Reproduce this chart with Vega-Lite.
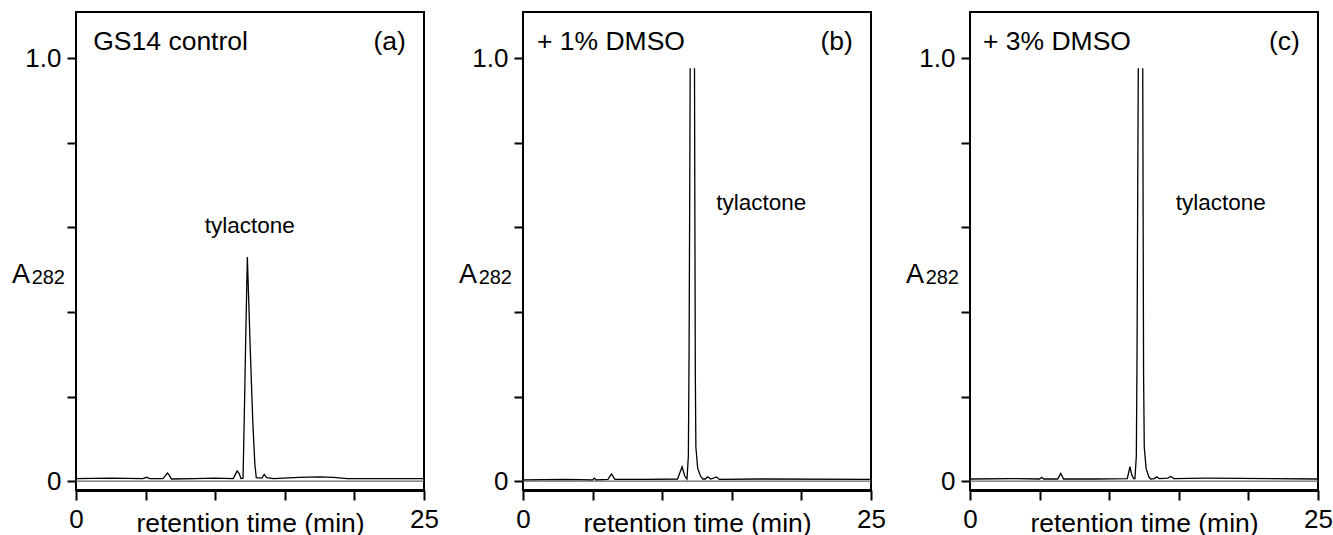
{
  "$schema": "https://vega.github.io/schema/vega-lite/v6.json",
  "padding": {"left": 10, "top": 11, "right": 5, "bottom": 0},
  "bounds": "flush",
  "spacing": 99,
  "background": "white",
  "datasets": {
    "a": [
      {"seg": 1, "t": 0, "a": 0.006}, {"seg": 1, "t": 2.5, "a": 0.007}, {"seg": 1, "t": 4.8, "a": 0.006},
      {"seg": 1, "t": 5.05, "a": 0.009}, {"seg": 1, "t": 5.3, "a": 0.006}, {"seg": 1, "t": 6.25, "a": 0.006},
      {"seg": 1, "t": 6.45, "a": 0.014}, {"seg": 1, "t": 6.57, "a": 0.019}, {"seg": 1, "t": 6.7, "a": 0.014},
      {"seg": 1, "t": 6.85, "a": 0.005}, {"seg": 1, "t": 8.5, "a": 0.006}, {"seg": 1, "t": 10, "a": 0.007},
      {"seg": 1, "t": 11.3, "a": 0.006}, {"seg": 1, "t": 11.45, "a": 0.016}, {"seg": 1, "t": 11.58, "a": 0.024},
      {"seg": 1, "t": 11.72, "a": 0.018}, {"seg": 1, "t": 11.85, "a": 0.006}, {"seg": 1, "t": 12.0, "a": 0.007},
      {"seg": 1, "t": 12.1, "a": 0.17}, {"seg": 1, "t": 12.2, "a": 0.35}, {"seg": 1, "t": 12.31, "a": 0.53},
      {"seg": 1, "t": 12.5, "a": 0.33}, {"seg": 1, "t": 12.7, "a": 0.14}, {"seg": 1, "t": 12.85, "a": 0.04},
      {"seg": 1, "t": 12.95, "a": 0.008}, {"seg": 1, "t": 13.35, "a": 0.007}, {"seg": 1, "t": 13.52, "a": 0.016},
      {"seg": 1, "t": 13.7, "a": 0.008}, {"seg": 1, "t": 14.2, "a": 0.006}, {"seg": 1, "t": 16, "a": 0.009},
      {"seg": 1, "t": 17.5, "a": 0.01}, {"seg": 1, "t": 18.5, "a": 0.009}, {"seg": 1, "t": 19.5, "a": 0.006},
      {"seg": 1, "t": 25, "a": 0.006}
    ],
    "b": [
      {"seg": 1, "t": 0, "a": 0.003}, {"seg": 1, "t": 3, "a": 0.004}, {"seg": 1, "t": 5.0, "a": 0.003},
      {"seg": 1, "t": 5.12, "a": 0.007}, {"seg": 1, "t": 5.25, "a": 0.003}, {"seg": 1, "t": 6.1, "a": 0.004},
      {"seg": 1, "t": 6.36, "a": 0.017}, {"seg": 1, "t": 6.6, "a": 0.004}, {"seg": 1, "t": 9, "a": 0.004},
      {"seg": 1, "t": 11.1, "a": 0.005}, {"seg": 1, "t": 11.43, "a": 0.034}, {"seg": 1, "t": 11.62, "a": 0.012},
      {"seg": 1, "t": 11.78, "a": 0.005}, {"seg": 1, "t": 11.88, "a": 0.06}, {"seg": 1, "t": 11.93, "a": 0.3},
      {"seg": 1, "t": 11.98, "a": 0.7}, {"seg": 1, "t": 12.01, "a": 0.976},
      {"seg": 2, "t": 12.32, "a": 0.976}, {"seg": 2, "t": 12.35, "a": 0.6}, {"seg": 2, "t": 12.38, "a": 0.25},
      {"seg": 2, "t": 12.42, "a": 0.08}, {"seg": 2, "t": 12.55, "a": 0.03}, {"seg": 2, "t": 12.75, "a": 0.012},
      {"seg": 2, "t": 12.92, "a": 0.005}, {"seg": 2, "t": 13.1, "a": 0.005}, {"seg": 2, "t": 13.26, "a": 0.01},
      {"seg": 2, "t": 13.5, "a": 0.005}, {"seg": 2, "t": 13.9, "a": 0.01}, {"seg": 2, "t": 14.1, "a": 0.004},
      {"seg": 2, "t": 17, "a": 0.005}, {"seg": 2, "t": 25, "a": 0.004}
    ],
    "c": [
      {"seg": 1, "t": 0, "a": 0.005}, {"seg": 1, "t": 3, "a": 0.006}, {"seg": 1, "t": 5.0, "a": 0.005},
      {"seg": 1, "t": 5.15, "a": 0.009}, {"seg": 1, "t": 5.3, "a": 0.005}, {"seg": 1, "t": 6.3, "a": 0.005},
      {"seg": 1, "t": 6.52, "a": 0.018}, {"seg": 1, "t": 6.72, "a": 0.005}, {"seg": 1, "t": 9, "a": 0.005},
      {"seg": 1, "t": 11.3, "a": 0.006}, {"seg": 1, "t": 11.49, "a": 0.034}, {"seg": 1, "t": 11.62, "a": 0.015},
      {"seg": 1, "t": 11.75, "a": 0.006}, {"seg": 1, "t": 11.85, "a": 0.006}, {"seg": 1, "t": 11.95, "a": 0.06},
      {"seg": 1, "t": 12.0, "a": 0.3}, {"seg": 1, "t": 12.05, "a": 0.7}, {"seg": 1, "t": 12.09, "a": 0.976},
      {"seg": 2, "t": 12.41, "a": 0.976}, {"seg": 2, "t": 12.44, "a": 0.6}, {"seg": 2, "t": 12.47, "a": 0.25},
      {"seg": 2, "t": 12.52, "a": 0.08}, {"seg": 2, "t": 12.65, "a": 0.03}, {"seg": 2, "t": 12.85, "a": 0.01},
      {"seg": 2, "t": 12.98, "a": 0.005}, {"seg": 2, "t": 13.25, "a": 0.006}, {"seg": 2, "t": 13.41, "a": 0.01},
      {"seg": 2, "t": 13.6, "a": 0.006}, {"seg": 2, "t": 14.2, "a": 0.007}, {"seg": 2, "t": 14.42, "a": 0.011},
      {"seg": 2, "t": 14.65, "a": 0.006}, {"seg": 2, "t": 17, "a": 0.007}, {"seg": 2, "t": 25, "a": 0.005}
    ]
  },
  "hconcat": [
    {
      "width": 348, "height": 478,
      "layer": [
        {"data": {"values": [{}]}, "mark": {"type": "rule", "color": "#666666", "strokeWidth": 1.2}, "encoding": {"y": {"datum": 0, "type": "quantitative"}}},
        {"data": {"name": "a"}, "mark": {"type": "line", "color": "black", "strokeWidth": 1.3},
         "encoding": {
           "x": {"field": "t", "type": "quantitative", "scale": {"domain": [0, 25], "nice": false, "zero": false},
                 "axis": {"values": [0, 5, 10, 15, 20, 25], "labelExpr": "datum.value == 0 || datum.value == 25 ? datum.label : ''", "title": "retention time (min)"}},
           "y": {"field": "a", "type": "quantitative", "scale": {"domain": [-0.021, 1.109], "nice": false, "zero": false},
                 "axis": {"values": [0, 0.2, 0.4, 0.6, 0.8, 1], "labelExpr": "datum.value == 0 ? '0' : datum.value == 1 ? '1.0' : ''", "title": null}},
           "detail": {"field": "seg", "type": "nominal"}
         }},
        {"data": {"values": [{}]}, "mark": {"type": "text", "text": "GS14 control", "align": "left", "baseline": "alphabetic", "fontSize": 26.5}, "encoding": {"x": {"datum": 1.24}, "y": {"datum": 1.018}}},
        {"data": {"values": [{}]}, "mark": {"type": "text", "text": "(a)", "align": "right", "baseline": "alphabetic", "fontSize": 26.5}, "encoding": {"x": {"datum": 23.7}, "y": {"datum": 1.018}}},
        {"data": {"values": [{}]}, "mark": {"type": "text", "text": "tylactone", "align": "center", "baseline": "alphabetic", "fontSize": 22.5}, "encoding": {"x": {"datum": 12.49}, "y": {"datum": 0.587}}},
        {"data": {"values": [{}]}, "mark": {"type": "text", "text": "A", "align": "left", "baseline": "alphabetic", "fontSize": 27}, "encoding": {"x": {"datum": -4.6}, "y": {"datum": 0.4686}}},
        {"data": {"values": [{}]}, "mark": {"type": "text", "text": "282", "align": "right", "baseline": "alphabetic", "fontSize": 20}, "encoding": {"x": {"datum": -0.79}, "y": {"datum": 0.466}}}
      ]
    },
    {
      "width": 348, "height": 478,
      "layer": [
        {"data": {"values": [{}]}, "mark": {"type": "rule", "color": "#666666", "strokeWidth": 1.2}, "encoding": {"y": {"datum": 0, "type": "quantitative"}}},
        {"data": {"name": "b"}, "mark": {"type": "line", "color": "black", "strokeWidth": 1.3},
         "encoding": {
           "x": {"field": "t", "type": "quantitative", "scale": {"domain": [0, 25], "nice": false, "zero": false},
                 "axis": {"values": [0, 5, 10, 15, 20, 25], "labelExpr": "datum.value == 0 || datum.value == 25 ? datum.label : ''", "title": "retention time (min)"}},
           "y": {"field": "a", "type": "quantitative", "scale": {"domain": [-0.021, 1.109], "nice": false, "zero": false},
                 "axis": {"values": [0, 0.2, 0.4, 0.6, 0.8, 1], "labelExpr": "datum.value == 0 ? '0' : datum.value == 1 ? '1.0' : ''", "title": null}},
           "detail": {"field": "seg", "type": "nominal"}
         }},
        {"data": {"values": [{}]}, "mark": {"type": "text", "text": "+ 1% DMSO", "align": "left", "baseline": "alphabetic", "fontSize": 26.5}, "encoding": {"x": {"datum": 1.0}, "y": {"datum": 1.018}}},
        {"data": {"values": [{}]}, "mark": {"type": "text", "text": "(b)", "align": "right", "baseline": "alphabetic", "fontSize": 26.5}, "encoding": {"x": {"datum": 23.7}, "y": {"datum": 1.018}}},
        {"data": {"values": [{}]}, "mark": {"type": "text", "text": "tylactone", "align": "left", "baseline": "alphabetic", "fontSize": 22.5}, "encoding": {"x": {"datum": 13.88}, "y": {"datum": 0.642}}},
        {"data": {"values": [{}]}, "mark": {"type": "text", "text": "A", "align": "left", "baseline": "alphabetic", "fontSize": 27}, "encoding": {"x": {"datum": -4.6}, "y": {"datum": 0.4686}}},
        {"data": {"values": [{}]}, "mark": {"type": "text", "text": "282", "align": "right", "baseline": "alphabetic", "fontSize": 20}, "encoding": {"x": {"datum": -0.79}, "y": {"datum": 0.466}}}
      ]
    },
    {
      "width": 348, "height": 478,
      "layer": [
        {"data": {"values": [{}]}, "mark": {"type": "rule", "color": "#666666", "strokeWidth": 1.2}, "encoding": {"y": {"datum": 0, "type": "quantitative"}}},
        {"data": {"name": "c"}, "mark": {"type": "line", "color": "black", "strokeWidth": 1.3},
         "encoding": {
           "x": {"field": "t", "type": "quantitative", "scale": {"domain": [0, 25], "nice": false, "zero": false},
                 "axis": {"values": [0, 5, 10, 15, 20, 25], "labelExpr": "datum.value == 0 || datum.value == 25 ? datum.label : ''", "title": "retention time (min)"}},
           "y": {"field": "a", "type": "quantitative", "scale": {"domain": [-0.021, 1.109], "nice": false, "zero": false},
                 "axis": {"values": [0, 0.2, 0.4, 0.6, 0.8, 1], "labelExpr": "datum.value == 0 ? '0' : datum.value == 1 ? '1.0' : ''", "title": null}},
           "detail": {"field": "seg", "type": "nominal"}
         }},
        {"data": {"values": [{}]}, "mark": {"type": "text", "text": "+ 3% DMSO", "align": "left", "baseline": "alphabetic", "fontSize": 26.5}, "encoding": {"x": {"datum": 0.93}, "y": {"datum": 1.018}}},
        {"data": {"values": [{}]}, "mark": {"type": "text", "text": "(c)", "align": "right", "baseline": "alphabetic", "fontSize": 26.5}, "encoding": {"x": {"datum": 23.7}, "y": {"datum": 1.018}}},
        {"data": {"values": [{}]}, "mark": {"type": "text", "text": "tylactone", "align": "left", "baseline": "alphabetic", "fontSize": 22.5}, "encoding": {"x": {"datum": 14.78}, "y": {"datum": 0.642}}},
        {"data": {"values": [{}]}, "mark": {"type": "text", "text": "A", "align": "left", "baseline": "alphabetic", "fontSize": 27}, "encoding": {"x": {"datum": -4.6}, "y": {"datum": 0.4686}}},
        {"data": {"values": [{}]}, "mark": {"type": "text", "text": "282", "align": "right", "baseline": "alphabetic", "fontSize": 20}, "encoding": {"x": {"datum": -0.79}, "y": {"datum": 0.466}}}
      ]
    }
  ],
  "config": {
    "font": "Liberation Sans",
    "view": {"stroke": "black", "strokeWidth": 2},
    "text": {"color": "black", "font": "Liberation Sans"},
    "axis": {"grid": false, "labelFont": "Liberation Sans", "labelFontSize": 26, "labelColor": "black",
             "tickColor": "black", "tickWidth": 2, "domainColor": "black", "labelOverlap": false, "labelFlush": false,
             "titleFont": "Liberation Sans", "titleFontSize": 26.5, "titleFontWeight": "normal", "titleColor": "black"},
    "axisX": {"tickSize": 10, "labelPadding": 27, "labelBaseline": "alphabetic", "domainWidth": 3,
              "titleBaseline": "alphabetic", "titleY": 41, "titlePadding": 0},
    "axisY": {"tickSize": 9, "labelPadding": 6, "domain": false}
  }
}
